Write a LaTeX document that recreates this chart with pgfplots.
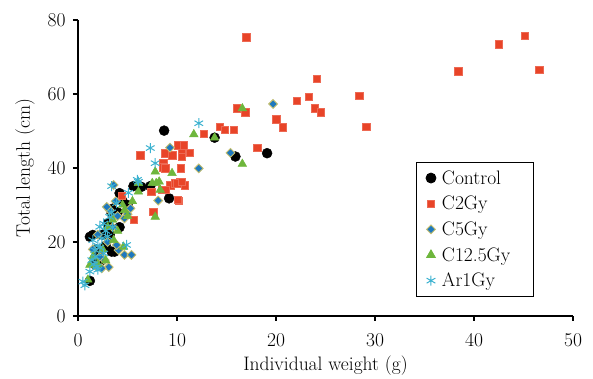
\documentclass[border=0pt]{standalone}
\usepackage{fontspec}
\usepackage{pgfplots}
\pgfplotsset{compat=1.18}
\definecolor{cred}{RGB}{232,68,40}
\definecolor{cblue}{RGB}{30,120,190}
\definecolor{cdedge}{RGB}{196,190,110}
\definecolor{cgreen}{RGB}{110,182,60}
\definecolor{ccyan}{RGB}{60,178,208}
\newcommand{\bigf}{\fontsize{19.5}{22}\selectfont}
\begin{document}
\begin{tikzpicture}
\begin{axis}[name=ax,
  scale only axis, width=495pt, height=296pt,
  xmin=0, xmax=50, ymin=0, ymax=80,
  xtick={0,10,...,50}, ytick={0,20,...,80},
  axis x line*=bottom, axis y line*=left,
  axis line style={line width=1.1pt,-},
  tick style={line width=1.1pt,black},
  tick align=outside, major tick length=5pt,
  /pgf/number format/assume math mode=true,
  ticklabel style={font=\bigf},
  xticklabel style={yshift=-9pt},
  yticklabel style={xshift=-4pt},
  xlabel={Individual weight (g)}, ylabel={Total length (cm)},
  label style={font=\bigf},
  xlabel style={yshift=-2pt},
  ylabel style={yshift=6pt},
  legend style={at={(axis cs:34.1,41.6)},anchor=north west,
    font=\bigf, draw=black, line width=0.8pt,
    row sep=6.5pt, inner xsep=10pt, inner ysep=6pt,
    /tikz/every odd column/.append style={column sep=4pt}},
  legend cell align=left,
  clip=false,
]
\addplot[only marks, mark=*, mark size=5pt, draw=black, fill=black] coordinates {
(1.2,9.5)(1.2,21.4)(1.5,21.9)(1.8,18)(2.2,14.7)(2.4,15.1)(2.5,22)(3.0,25)(3.4,27.8)(3.6,28.2)
(3.4,17.4)(3.7,17.4)(3.5,29)(4.2,24.0)(4.2,33.2)(4.5,31)(5.0,30)(5.6,35.1)(6.4,34.9)(7.3,35.1)
(8.7,50.1)(9.2,31.8)(13.8,48.2)(15.9,43.1)(19.1,44.0)(2.0,17)(2.8,19)(3.2,22)(4.0,28)(1.7,14)
};
\addlegendentry{Control}
\addplot[only marks, mark=square*, mark size=3.7pt, draw=cred!80!white, fill=cred] coordinates {
(4.4,32.5)(5.6,26)(6.3,43.5)(7.4,33.6)(7.6,28.2)(8.5,34.1)(8.8,34.1)(9.3,35.4)(9.8,35.9)(10.3,36.3)
(10.8,35.4)(10.2,31.2)(10.1,31.4)(10.0,35.9)(8.6,41.3)(8.6,40.2)(8.8,39.9)(10.4,39.9)(8.8,44.0)(9.5,43.5)
(10.1,46.2)(10.7,46.2)(10.5,44.2)(11.3,44.1)(10.5,43.1)(12.7,49.2)(14.3,51.2)(14.8,50.3)(15.7,50.3)(16.0,56.2)
(16.9,55.1)(17.0,75.4)(18.1,45.5)(20.0,53.2)(20.7,51.0)(22.1,58.2)(23.3,59.2)(23.9,56.2)(24.5,55.1)(24.1,64.2)
(28.4,59.5)(29.1,51.1)(38.4,66.2)(42.5,73.5)(45.1,75.7)(46.6,66.5)(10.5,36.3)(8.8,34.1)
};
\addlegendentry{C2Gy}
\addplot[only marks, mark=square*, mark size=3.1pt, mark options={rotate=45}, draw=cdedge, fill=cblue, line width=0.9pt] coordinates {
(19.7,57.3)(15.4,44.1)(9.3,45.5)(12.2,39.9)(8.1,31.2)(5.3,29.1)(3.2,28.6)(4.7,26.4)(4.1,17.8)(4.7,16.5)
(5.4,16.5)(3.1,13.2)(2.4,12.9)(2.7,15.1)(3.9,19.2)(2.9,29.5)(3.6,35.4)(3.0,20)(2.0,22)(1.5,18)
(3.5,24)(2.2,16)(1.8,13.5)(4.0,27)(5.0,27.5)(3.8,31)
};
\addlegendentry{C5Gy}
\addplot[only marks, mark=triangle*, mark size=5pt, draw=cgreen, fill=cgreen] coordinates {
(16.6,56.1)(16.6,41.1)(11.7,49.1)(13.8,48.2)(7.8,39.0)(9.5,38.6)(7.9,35.9)(6.1,35.9)(7.8,26.8)(4.7,28.6)
(3.6,20.5)(4.6,18.7)(1.2,13.8)(7.5,35.9)(8.2,36.3)(8.3,34.1)(6.1,33.6)(1.0,9.8)(2.0,14)(2.5,18)
(3.0,24)(3.5,26)(4.5,30)(5.0,27)(2.8,15)(1.5,16)(4.0,23)(5.5,31)
};
\addlegendentry{C12.5Gy\hspace*{11pt}}
\addplot[only marks, mark=asterisk, mark size=5pt, draw=ccyan, line width=1pt] coordinates {
(0.5,9.3)(0.7,8.3)(1.5,20.5)(1.7,17.8)(1.4,15.1)(1.9,13.3)(2.6,16.9)(2.2,24.1)(3.2,26.8)(3.9,30.5)
(3.4,35.1)(5.1,33.3)(6.1,36.3)(7.8,41.3)(7.3,45.4)(12.2,52.1)(4.9,19.2)(6.0,36.8)(2.0,19)(2.4,21)
(2.8,23)(1.8,16)(2.2,18.5)(3.0,21.5)(2.6,25)(1.6,14)(3.4,28)(2.0,12.5)(1.2,12)(3.5,24)
};
\addlegendentry{Ar1Gy}
\end{axis}
\path ([xshift=-78pt,yshift=-62pt]ax.south west) rectangle ([xshift=20pt,yshift=20pt]ax.north east);
\end{tikzpicture}
\end{document}
